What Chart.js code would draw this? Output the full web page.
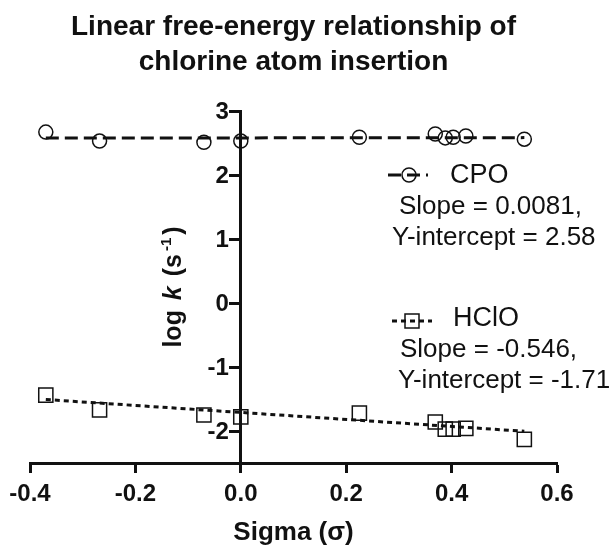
<!DOCTYPE html>
<html>
<head>
<meta charset="utf-8">
<script src="https://cdn.jsdelivr.net/npm/chart.js@4.4.1/dist/chart.umd.min.js"></script>
<style>
  html, body { margin: 0; padding: 0; background: #fff; }
  #wrap { width: 609px; height: 549px; }
</style>
</head>
<body>
<div id="wrap"><canvas id="lferChart" width="609" height="549"></canvas></div>
<script>
// values
const sigma = [-0.37, -0.268, -0.07, 0, 0.225, 0.369, 0.388, 0.403, 0.427, 0.538];
const cpoLogK = [2.67, 2.53, 2.51, 2.53, 2.59, 2.64, 2.58, 2.59, 2.61, 2.56];
const hcloLogK = [-1.44, -1.67, -1.75, -1.78, -1.72, -1.86, -1.97, -1.97, -1.96, -2.13];
const fitX = [-0.37, 0.538];
const cpoFitY = [2.577, 2.584];
const hcloFitY = [-1.508, -2.004];
const xTicks = [-0.4, -0.2, 0, 0.2, 0.4, 0.6];
const yTicks = [-2, -1, 0, 1, 2, 3];
const legendLines = {
    cpo: ["CPO", "Slope = 0.0081,", "Y-intercept = 2.58"],
    hclo: ["HClO", "Slope = -0.546,", "Y-intercept = -1.71"],
};

const FAMILY = '"Liberation Sans", Arial, sans-serif';
const INK = "#111";

function toPoints(xs, ys) {
    return xs.map((x, i) => ({ x: x, y: ys[i] }));
}

// y tick labels + y title (italic k, superscript) + the two text legends
const extraText = {
    id: "extraText",
    afterDraw(chart) {
        const ctx = chart.ctx;
        const xs = chart.scales.x;
        const ys = chart.scales.y;
        ctx.save();
        ctx.fillStyle = INK;
        ctx.strokeStyle = INK;

        // y tick labels, to the left of the axis at sigma = 0
        const axisX = xs.getPixelForValue(0);
        ctx.font = "bold 24px " + FAMILY;
        ctx.textAlign = "right";
        ctx.textBaseline = "middle";
        yTicks.forEach((v) => {
            ctx.fillText(String(v), axisX - 12, ys.getPixelForValue(v) + 1);
        });

        // y axis title
        const parts = [
            { t: "log ", f: "bold 25px " + FAMILY, dy: 0 },
            { t: "k", f: "italic bold 25px " + FAMILY, dy: 0 },
            { t: " (s", f: "bold 25px " + FAMILY, dy: 0 },
            { t: "-1", f: "bold 15px " + FAMILY, dy: -10 },
            { t: ")", f: "bold 25px " + FAMILY, dy: 0 },
        ];
        const gap = 3;
        let total = 0;
        parts.forEach((p) => {
            ctx.font = p.f;
            p.w = ctx.measureText(p.t).width;
            total += p.w + gap;
        });
        total -= gap;
        const cy = (chart.chartArea.top + chart.chartArea.bottom) / 2;
        ctx.translate(181, cy);
        ctx.rotate(-Math.PI / 2);
        ctx.textBaseline = "alphabetic";
        ctx.textAlign = "left";
        let px = -total / 2;
        parts.forEach((p) => {
            ctx.font = p.f;
            ctx.fillText(p.t, px, p.dy);
            px += p.w + gap;
        });
        ctx.setTransform(1, 0, 0, 1, 0, 0);

        // legend: CPO
        ctx.lineWidth = 3;
        ctx.setLineDash([13, 6]);
        ctx.beginPath();
        ctx.moveTo(388, 175);
        ctx.lineTo(428, 175);
        ctx.stroke();
        ctx.setLineDash([]);
        ctx.lineWidth = 1.5;
        ctx.beginPath();
        ctx.arc(409, 175, 7, 0, Math.PI * 2);
        ctx.stroke();

        // legend: HClO
        ctx.lineWidth = 3;
        ctx.setLineDash([5, 4]);
        ctx.beginPath();
        ctx.moveTo(392, 321);
        ctx.lineTo(432, 321);
        ctx.stroke();
        ctx.setLineDash([]);
        ctx.lineWidth = 1.5;
        ctx.strokeRect(405, 314, 14, 14);

        ctx.textBaseline = "middle";
        ctx.textAlign = "left";
        ctx.font = "27px " + FAMILY;
        ctx.fillText(legendLines.cpo[0], 450, 176);
        ctx.fillText(legendLines.hclo[0], 453, 319);
        ctx.font = "26px " + FAMILY;
        ctx.fillText(legendLines.cpo[1], 399, 207);
        ctx.fillText(legendLines.cpo[2], 392, 238);
        ctx.fillText(legendLines.hclo[1], 400, 350);
        ctx.fillText(legendLines.hclo[2], 398, 381);
        ctx.restore();
    },
};

new Chart(document.getElementById("lferChart"), {
    type: "scatter",
    data: {
        datasets: [
            {
                label: "CPO",
                data: toPoints(sigma, cpoLogK),
                pointStyle: "circle",
                pointRadius: 7,
                pointBorderWidth: 1.5,
                borderColor: INK,
                backgroundColor: "rgba(0,0,0,0)",
            },
            {
                label: "CPO fit",
                data: toPoints(fitX, cpoFitY),
                showLine: true,
                pointRadius: 0,
                borderWidth: 3,
                borderDash: [13, 6],
                borderColor: INK,
            },
            {
                label: "HClO",
                data: toPoints(sigma, hcloLogK),
                pointStyle: "rect",
                pointRadius: 10,
                pointBorderWidth: 1.5,
                borderColor: INK,
                backgroundColor: "rgba(0,0,0,0)",
            },
            {
                label: "HClO fit",
                data: toPoints(fitX, hcloFitY),
                showLine: true,
                pointRadius: 0,
                borderWidth: 3,
                borderDash: [5, 4],
                borderColor: INK,
            },
        ],
    },
    options: {
        responsive: false,
        animation: false,
        devicePixelRatio: 1,
        layout: { padding: { left: 30, right: 52, top: 0, bottom: 0 } },
        plugins: {
            legend: { display: false },
            tooltip: { enabled: false },
            title: {
                display: true,
                text: ["Linear free-energy relationship of", "chlorine atom insertion"],
                color: INK,
                font: { family: FAMILY, size: 28, weight: "bold", lineHeight: 1.25 },
                padding: { top: 10, bottom: 31 },
            },
        },
        scales: {
            x: {
                type: "linear",
                position: "bottom",
                min: -0.4,
                max: 0.6,
                border: { color: INK, width: 3 },
                grid: { drawOnChartArea: false, tickLength: 10, tickWidth: 3, tickColor: INK },
                ticks: {
                    color: INK,
                    padding: 7,
                    font: { family: FAMILY, size: 24, weight: "bold" },
                    callback: (v) => Number(v).toFixed(1),
                },
                afterBuildTicks: (s) => { s.ticks = xTicks.map((v) => ({ value: v })); },
                afterFit: (s) => { s.height = 86; },
                title: {
                    display: true,
                    text: "Sigma (σ)",
                    color: INK,
                    font: { family: FAMILY, size: 26, weight: "bold" },
                    padding: { top: 0, bottom: 1 },
                },
            },
            y: {
                type: "linear",
                position: { x: 0 },
                min: -2.5,
                max: 3,
                border: { color: INK, width: 3 },
                grid: { drawOnChartArea: false, tickLength: 10, tickWidth: 3, tickColor: INK },
                ticks: { display: false },
                afterBuildTicks: (s) => { s.ticks = yTicks.map((v) => ({ value: v })); },
            },
        },
    },
    plugins: [extraText],
});
</script>
</body>
</html>
